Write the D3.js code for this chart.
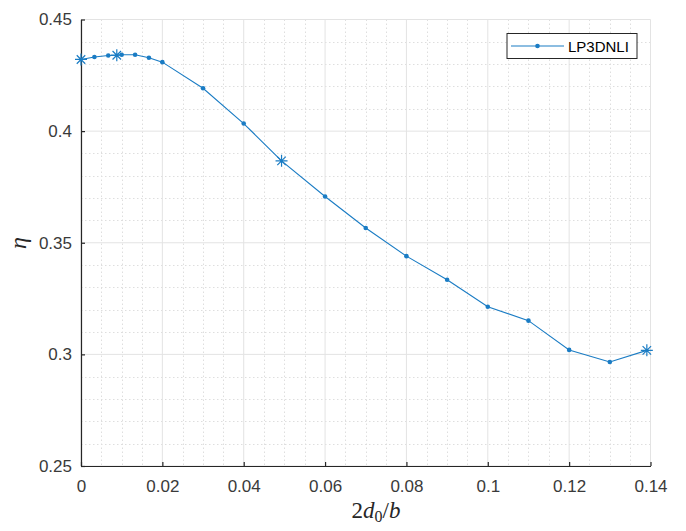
<!DOCTYPE html>
<html>
<head>
<meta charset="utf-8">
<script src="https://cdn.jsdelivr.net/npm/d3@7"></script>
<style>
html,body{margin:0;padding:0;background:#fff;}
svg{display:block;}
</style>
</head>
<body>
<svg id="chart" width="686" height="531"></svg>
<script>
// ---- data ----
const xValues = [0, 0.0033, 0.0067, 0.0088, 0.01, 0.0133, 0.0167, 0.02, 0.03, 0.04, 0.0493, 0.06, 0.07, 0.08, 0.09, 0.10, 0.11, 0.12, 0.13, 0.1391];
const etaValues = [0.4321, 0.4332, 0.4339, 0.4340, 0.4342, 0.4342, 0.4329, 0.4309, 0.4192, 0.4034, 0.3867, 0.3707, 0.3566, 0.3440, 0.3334, 0.3213, 0.3151, 0.3020, 0.2966, 0.3018];
const starIndices = [0, 3, 10, 19];
const xTicks = [0, 0.02, 0.04, 0.06, 0.08, 0.1, 0.12, 0.14];
const yTicks = [0.25, 0.3, 0.35, 0.4, 0.45];
const seriesName = "LP3DNLI";

// ---- layout ----
const svg = d3.select("#chart");
const L = 81, R = 650.5, T = 19.5, B = 466;
const x = d3.scaleLinear().domain([0, 0.14]).range([L, R]);
const y = d3.scaleLinear().domain([0.25, 0.45]).range([B, T]);
const color = "#1a7cc4";
const axisColor = "#262626";
const labelColor = "#3a3a3a";

// minor grid
const xMinor = d3.range(0, 0.1401, 0.005).filter(v => !xTicks.some(t => Math.abs(t - v) < 1e-9));
const yMinor = d3.range(0.25, 0.4501, 0.01).filter(v => !yTicks.some(t => Math.abs(t - v) < 1e-9));
const g = svg.append("g");
g.selectAll(".xminor").data(xMinor).join("line")
  .attr("x1", d => Math.round(x(d)) + 0.5).attr("x2", d => Math.round(x(d)) + 0.5)
  .attr("y1", T).attr("y2", B)
  .attr("stroke", "#dedede").attr("stroke-width", 1).attr("stroke-dasharray", "1.5,2.5");
g.selectAll(".yminor").data(yMinor).join("line")
  .attr("y1", d => Math.round(y(d)) + 0.5).attr("y2", d => Math.round(y(d)) + 0.5)
  .attr("x1", L).attr("x2", R)
  .attr("stroke", "#dedede").attr("stroke-width", 1).attr("stroke-dasharray", "1.5,2.5");
// major grid
g.selectAll(".xmajor").data(xTicks).join("line")
  .attr("x1", d => x(d)).attr("x2", d => x(d))
  .attr("y1", T).attr("y2", B)
  .attr("stroke", "#e3e3e3").attr("stroke-width", 1);
g.selectAll(".ymajor").data(yTicks).join("line")
  .attr("y1", d => y(d)).attr("y2", d => y(d))
  .attr("x1", L).attr("x2", R)
  .attr("stroke", "#e3e3e3").attr("stroke-width", 1);

// axes
const xAxis = d3.axisBottom(x).tickValues(xTicks).tickSizeInner(-4).tickSizeOuter(0).tickPadding(13)
  .tickFormat(d => d3.format("")(+d.toFixed(2)));
const yAxis = d3.axisLeft(y).tickValues(yTicks).tickSizeInner(-4).tickSizeOuter(0).tickPadding(9)
  .tickFormat(d => d3.format("")(+d.toFixed(2)));
const gx = svg.append("g").attr("transform", `translate(0,${B})`).call(xAxis);
const gy = svg.append("g").attr("transform", `translate(${L},0)`).call(yAxis);
[gx, gy].forEach(a => {
  a.select(".domain").attr("stroke", axisColor).attr("stroke-width", 1.2);
  a.selectAll(".tick line").attr("stroke", axisColor).attr("stroke-width", 1.2);
  a.selectAll(".tick text").attr("fill", labelColor)
    .style("font-family", "'Liberation Sans', Arial, Helvetica, sans-serif").style("font-size", "17px");
});
gx.selectAll(".tick text").attr("dy", "0.75em");

// line
const pts = xValues.map((v, i) => [v, etaValues[i]]);
svg.append("path").datum(pts)
  .attr("fill", "none").attr("stroke", color).attr("stroke-width", 1.1)
  .attr("d", d3.line().x(d => x(d[0])).y(d => y(d[1])));

// dot markers
svg.selectAll(".dot").data(pts.filter((d, i) => !starIndices.includes(i))).join("circle")
  .attr("cx", d => x(d[0])).attr("cy", d => y(d[1])).attr("r", 2.3).attr("fill", color);

// star markers
const starPath = (cx, cy, r) => {
  let p = "";
  [0, 45, 90, 135].forEach(a => {
    const rad = a * Math.PI / 180, dx = r * Math.cos(rad), dy = r * Math.sin(rad);
    p += `M${cx - dx},${cy - dy}L${cx + dx},${cy + dy}`;
  });
  return p;
};
svg.selectAll(".star").data(starIndices.map(i => pts[i])).join("path")
  .attr("d", d => starPath(x(d[0]), y(d[1]), 6))
  .attr("stroke", color).attr("stroke-width", 1.2).attr("fill", "none");

// legend
const lg = svg.append("g");
lg.append("rect").attr("x", 507).attr("y", 33.5).attr("width", 130).attr("height", 25)
  .attr("fill", "#fff").attr("stroke", axisColor).attr("stroke-width", 1);
lg.append("line").attr("x1", 511).attr("x2", 564).attr("y1", 46).attr("y2", 46)
  .attr("stroke", color).attr("stroke-width", 1.1);
lg.append("circle").attr("cx", 537.5).attr("cy", 46).attr("r", 2.3).attr("fill", color);
lg.append("text").attr("x", 568).attr("y", 51.5).text(seriesName)
  .attr("fill", "#000").style("font-family", "'Liberation Sans', Arial, sans-serif").style("font-size", "15px");

// axis labels
const xl = svg.append("text").attr("x", 376).attr("y", 518).attr("text-anchor", "middle")
  .style("font-family", "'Liberation Serif', 'Times New Roman', serif").style("font-size", "23px").attr("fill", axisColor);
xl.append("tspan").text("2");
xl.append("tspan").style("font-style", "italic").text("d");
xl.append("tspan").attr("dy", 4).style("font-size", "16px").text("0");
xl.append("tspan").attr("dy", -4).text("/");
xl.append("tspan").style("font-style", "italic").text("b");

svg.append("text").attr("transform", "translate(26,243) rotate(-90)").attr("text-anchor", "middle")
  .style("font-family", "'Liberation Serif', 'Times New Roman', serif").style("font-style", "italic")
  .style("font-size", "24px").attr("fill", axisColor).text("η");
</script>
</body>
</html>
